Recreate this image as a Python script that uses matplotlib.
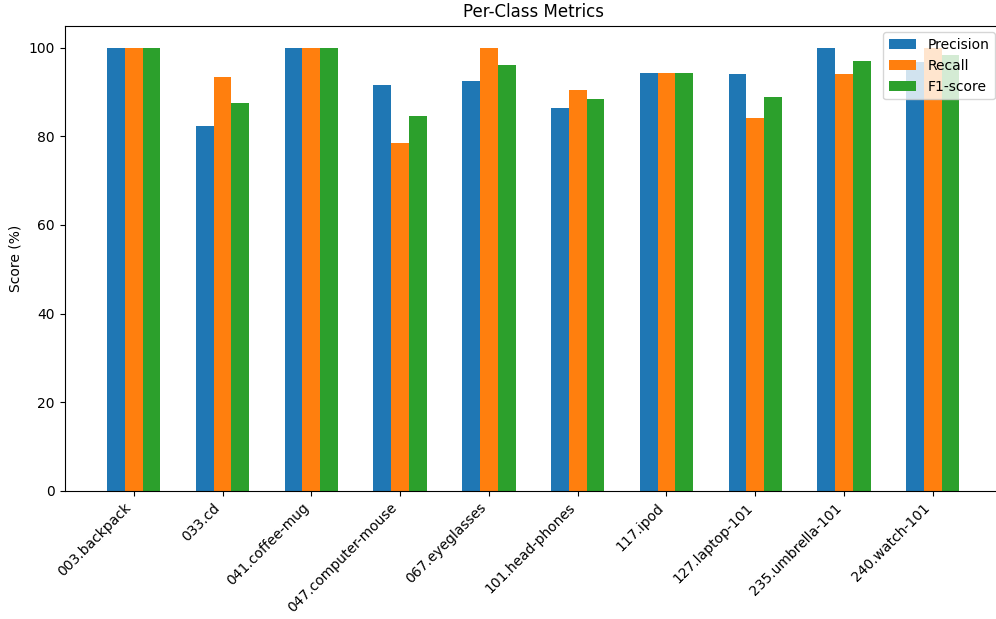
import numpy as np
import matplotlib
matplotlib.use("Agg")
import matplotlib.pyplot as plt

classes = ["003.backpack", "033.cd", "041.coffee-mug", "047.computer-mouse",
           "067.eyeglasses", "101.head-phones", "117.ipod", "127.laptop-101",
           "235.umbrella-101", "240.watch-101"]

precision = [100.0, 82.35, 100.0, 91.67, 92.59, 86.36, 94.29, 94.12, 100.0, 96.67]
recall = [100.0, 93.33, 100.0, 78.57, 100.0, 90.48, 94.29, 84.21, 94.12, 100.0]
f1 = [100.0, 87.50, 100.0, 84.62, 96.15, 88.37, 94.29, 88.89, 96.97, 98.31]

x = np.arange(len(classes))
width = 0.2

fig = plt.figure(figsize=(9.96, 6.19), dpi=100)
# axes run slightly past the right edge of the canvas
ax = fig.add_axes([0.0648, 0.2068, 0.9412, 0.752])

ax.bar(x - width, precision, width, label="Precision")
ax.bar(x, recall, width, label="Recall")
ax.bar(x + width, f1, width, label="F1-score")

ax.set_xticks(x)
ax.set_xticklabels(classes, rotation=45, ha="right")
ax.set_xlim(-0.78, 9.78)
ax.set_ylabel("Score (%)")
ax.set_title("Per-Class Metrics")
ax.legend(loc="upper right")
ax.spines["right"].set_visible(False)

fig.savefig("out.png", dpi=100)
